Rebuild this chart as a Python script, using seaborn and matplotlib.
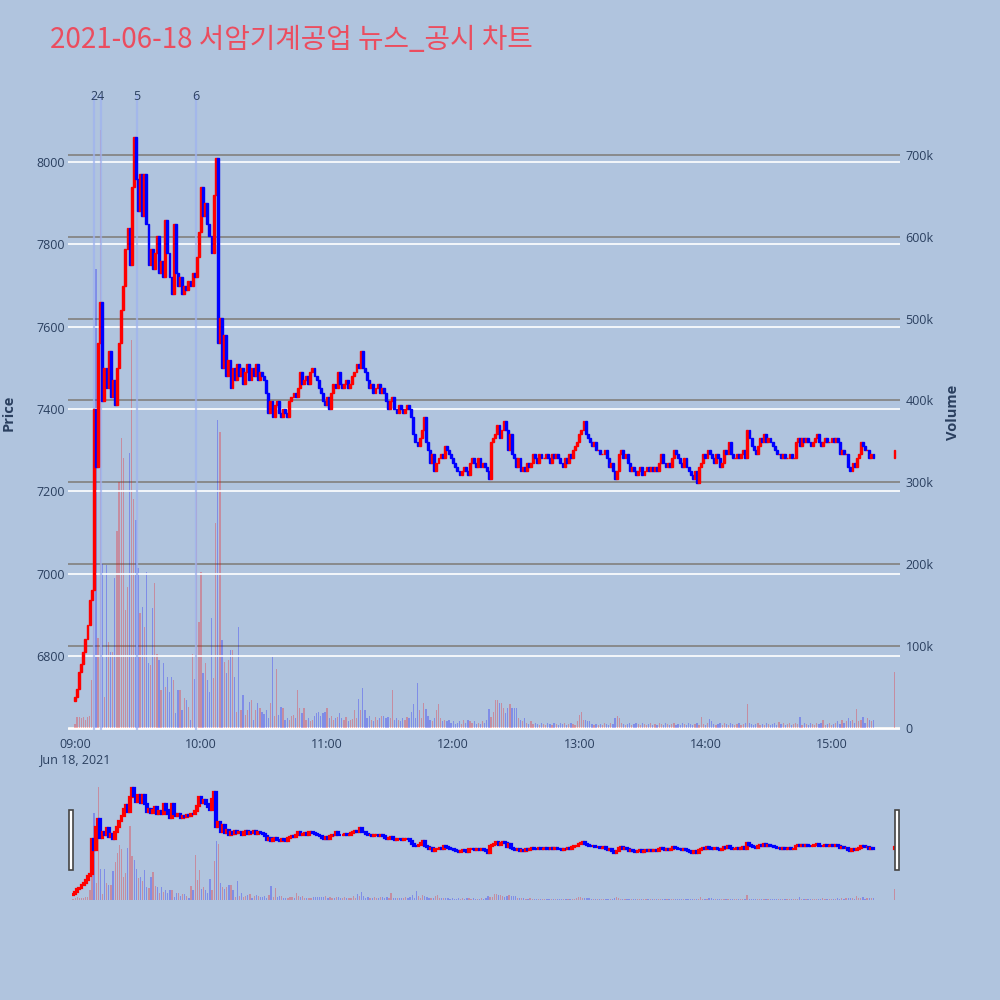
import numpy as np
import pandas as pd
import matplotlib
matplotlib.use('Agg')
from matplotlib import pyplot as plt
from matplotlib.patches import Rectangle
import seaborn as sns

## chart data (minutes after 09:00, 1-minute candles, last one = 15:30 close)
title = '2021-06-18 서암기계공업 뉴스_공시 차트'
first_open = 6690
close = [
    6700, 6720, 6760, 6780, 6810, 6840, 6875, 6935, 6960, 7400,  # 09:00
    7260, 7560, 7660, 7420, 7500, 7450, 7540, 7430, 7470, 7410,  # 09:10
    7500, 7560, 7640, 7700, 7790, 7840, 7750, 7940, 8060, 7960,  # 09:20
    7880, 7970, 7870, 7970, 7850, 7750, 7790, 7740, 7780, 7820,  # 09:30
    7730, 7760, 7720, 7860, 7780, 7720, 7680, 7850, 7730, 7700,  # 09:40
    7720, 7680, 7700, 7690, 7710, 7700, 7730, 7720, 7770, 7830,  # 09:50
    7940, 7870, 7900, 7850, 7820, 7780, 7920, 8010, 7560, 7620,  # 10:00
    7500, 7580, 7480, 7520, 7450, 7500, 7470, 7510, 7480, 7500,  # 10:10
    7460, 7490, 7510, 7470, 7500, 7480, 7510, 7470, 7490, 7480,  # 10:20
    7470, 7440, 7390, 7420, 7380, 7410, 7420, 7390, 7380, 7400,  # 10:30
    7390, 7380, 7420, 7430, 7440, 7430, 7450, 7490, 7460, 7470,  # 10:40
    7480, 7460, 7490, 7500, 7480, 7470, 7450, 7440, 7420, 7410,  # 10:50
    7430, 7400, 7440, 7460, 7450, 7490, 7460, 7450, 7460, 7470,  # 11:00
    7450, 7460, 7480, 7490, 7510, 7500, 7540, 7500, 7490, 7470,  # 11:10
    7450, 7460, 7440, 7450, 7460, 7440, 7450, 7440, 7420, 7400,  # 11:20
    7420, 7430, 7400, 7390, 7410, 7400, 7390, 7400, 7410, 7400,  # 11:30
    7380, 7340, 7320, 7310, 7330, 7350, 7380, 7320, 7300, 7270,  # 11:40
    7290, 7250, 7270, 7280, 7290, 7280, 7310, 7300, 7290, 7280,  # 11:50
    7270, 7260, 7250, 7240, 7250, 7260, 7250, 7240, 7270, 7280,  # 12:00
    7270, 7260, 7280, 7260, 7270, 7260, 7250, 7230, 7320, 7330,  # 12:10
    7340, 7360, 7330, 7350, 7370, 7350, 7300, 7340, 7290, 7280,  # 12:20
    7260, 7280, 7250, 7260, 7250, 7270, 7260, 7270, 7290, 7280,  # 12:30
    7270, 7290, 7280, 7280, 7290, 7280, 7270, 7290, 7280, 7290,  # 12:40
    7280, 7270, 7260, 7280, 7270, 7290, 7280, 7300, 7310, 7320,  # 12:50
    7340, 7350, 7370, 7340, 7330, 7320, 7310, 7320, 7300, 7300,  # 13:00
    7290, 7290, 7300, 7280, 7260, 7270, 7250, 7230, 7250, 7290,  # 13:10
    7300, 7280, 7290, 7270, 7250, 7260, 7250, 7240, 7250, 7260,  # 13:20
    7240, 7250, 7260, 7250, 7260, 7250, 7260, 7250, 7270, 7290,  # 13:30
    7270, 7260, 7270, 7260, 7280, 7300, 7290, 7280, 7270, 7260,  # 13:40
    7280, 7260, 7250, 7240, 7230, 7250, 7220, 7260, 7270, 7290,  # 13:50
    7280, 7300, 7290, 7280, 7270, 7290, 7280, 7260, 7270, 7300,  # 14:00
    7290, 7320, 7290, 7280, 7280, 7290, 7280, 7290, 7300, 7280,  # 14:10
    7350, 7330, 7310, 7300, 7290, 7310, 7330, 7320, 7340, 7320,  # 14:20
    7330, 7320, 7310, 7300, 7290, 7290, 7280, 7290, 7280, 7280,  # 14:30
    7290, 7280, 7280, 7320, 7330, 7310, 7330, 7320, 7330, 7320,  # 14:40
    7310, 7320, 7330, 7340, 7320, 7310, 7320, 7330, 7320, 7320,  # 14:50
    7330, 7320, 7330, 7320, 7290, 7300, 7290, 7290, 7260, 7250,  # 15:00
    7270, 7260, 7280, 7290, 7320, 7310, 7300, 7300, 7280, 7290,  # 15:10
    7280,                                                        # 15:20
    7300,                                                        # 15:30 close
]
volume_k = [
    5, 13, 14, 12, 13, 10, 14, 15, 59, 300,
    560, 110, 730, 200, 38, 199, 105, 93, 93, 183,
    240, 300, 354, 330, 144, 172, 336, 474, 280, 254,
    195, 140, 148, 123, 190, 79, 77, 146, 177, 91,
    83, 46, 79, 50, 62, 44, 62, 59, 18, 46,
    46, 22, 37, 34, 26, 10, 91, 60, 288, 130,
    190, 67, 79, 59, 44, 134, 61, 250, 376, 361,
    107, 81, 67, 83, 95, 95, 62, 20, 123, 22,
    40, 16, 22, 32, 34, 10, 22, 30, 25, 20,
    17, 22, 12, 30, 87, 15, 72, 16, 26, 24,
    10, 12, 10, 15, 16, 12, 46, 24, 18, 24,
    10, 12, 8, 10, 15, 18, 20, 15, 18, 20,
    24, 12, 15, 10, 12, 14, 18, 12, 10, 14,
    8, 10, 11, 22, 12, 35, 22, 49, 22, 12,
    15, 10, 8, 14, 10, 12, 15, 15, 12, 14,
    12, 46, 10, 12, 10, 8, 12, 10, 14, 12,
    20, 29, 12, 55, 22, 12, 30, 23, 15, 10,
    8, 12, 22, 29, 12, 8, 10, 8, 10, 6,
    8, 5, 6, 8, 5, 10, 6, 10, 8, 6,
    8, 5, 6, 5, 8, 6, 10, 23, 14, 20,
    34, 34, 30, 30, 25, 18, 25, 29, 25, 25,
    25, 12, 10, 8, 12, 6, 5, 8, 5, 6,
    5, 4, 6, 5, 4, 6, 5, 4, 6, 5,
    4, 6, 5, 6, 4, 5, 6, 5, 4, 8,
    16, 20, 10, 10, 8, 8, 5, 4, 5, 4,
    5, 4, 6, 5, 4, 6, 5, 12, 15, 12,
    6, 5, 4, 5, 6, 4, 5, 6, 5, 4,
    6, 5, 4, 5, 6, 4, 5, 4, 6, 5,
    4, 6, 5, 4, 5, 6, 4, 5, 4, 6,
    5, 4, 6, 5, 4, 5, 6, 4, 14, 5,
    4, 6, 11, 8, 5, 4, 5, 6, 4, 6,
    5, 4, 6, 5, 4, 5, 6, 4, 5, 6,
    29, 6, 5, 4, 5, 6, 4, 5, 4, 6,
    5, 4, 5, 6, 4, 7, 5, 6, 4, 5,
    6, 4, 5, 6, 5, 14, 4, 6, 5, 4,
    6, 5, 4, 6, 5, 6, 10, 4, 5, 6,
    4, 5, 6, 8, 5, 10, 6, 8, 12, 8,
    10, 6, 23, 8, 10, 14, 6, 12, 10, 8,
    10,
    68,
]
minutes = list(range(381)) + [390]
news_minutes = [9.3, 12.2, 29.3, 57.4]
news_labels = ['2', '4', '5', '6']
hour_ticks = [0, 60, 120, 180, 240, 300, 360]
hour_labels = ['09:00\nJun 18, 2021', '10:00', '11:00', '12:00', '13:00', '14:00', '15:00']
price_ticks = [6800, 7000, 7200, 7400, 7600, 7800, 8000]
vol_ticks = [0, 100000, 200000, 300000, 400000, 500000, 600000, 700000]
vol_labels = ['0', '100k', '200k', '300k', '400k', '500k', '600k', '700k']

d = pd.DataFrame({'minute': minutes, 'close': close, 'volume': np.array(volume_k) * 1000})
d['open'] = d['close'].shift(1).fillna(first_open)
d['up'] = d['close'] >= d['open']
d['color'] = np.where(d['up'], '#ff0000', '#0000ff')

## style
sns.set_theme(style='darkgrid', rc={
    'figure.facecolor': '#b0c4de',
    'axes.facecolor': '#e5ecf6',
    'grid.color': 'white',
})
plt.rcParams['font.family'] = ['Noto Sans CJK KR', 'DejaVu Sans']
txt = '#2a3f5f'
PLO, PHI = 6620, 8163
VLO, VHI = -2400, 773000

fig = plt.figure(figsize=(10, 10), dpi=100)
fig.text(0.05, 0.96, title, fontsize=20, color='#eb4d5f', va='center', ha='left')


def draw(ax, axv, lw):
    axv.bar(d['minute'], d['volume'], width=0.6, color=d['color'], alpha=0.28, linewidth=0, zorder=2)
    ax.bar(d['minute'], d['close'] - d['open'], bottom=d['open'], width=0.9,
           color=d['color'], edgecolor=d['color'], linewidth=lw, zorder=3)
    ax.set_ylim(PLO, PHI)
    axv.set_ylim(VLO, VHI)


## main panel
ax = fig.add_axes([0.068, 0.27, 0.832, 0.635])
axv = ax.twinx()
ax.set_zorder(axv.get_zorder() + 1)
ax.patch.set_visible(False)
axv.set_facecolor('#e5ecf6')
draw(ax, axv, 1.0)
for m, lab in zip(news_minutes, news_labels):
    ax.axvline(m, color='#9fb3ef', lw=1.6, alpha=0.75, zorder=1)
    ax.text(m, 0.997, lab, transform=ax.get_xaxis_transform(), ha='center', va='center',
            fontsize=9, color=txt, family=['Open Sans', 'DejaVu Sans'])
ax.set_xlim(-3.3, 392.6)
ax.set_xticks(hour_ticks)
ax.set_xticklabels(hour_labels, family=['Open Sans', 'DejaVu Sans'])
ax.set_yticks(price_ticks)
ax.set_yticklabels([str(p) for p in price_ticks], family=['Open Sans', 'DejaVu Sans'])
ax.grid(axis='x', visible=False)
ax.grid(axis='y', color='white', lw=1.2)
axv.set_yticks(vol_ticks)
axv.set_yticklabels(vol_labels, family=['Open Sans', 'DejaVu Sans'])
axv.grid(axis='x', visible=False)
axv.grid(axis='y', color='#858585', lw=1.3)
axv.axhline(0, color='white', lw=2, zorder=1)
ax.tick_params(axis='both', length=0, labelsize=9, labelcolor=txt)
ax.tick_params(axis='y', pad=2)
ax.tick_params(axis='x', pad=6)
axv.tick_params(axis='y', length=0, labelsize=9, labelcolor=txt, pad=4)
ax.set_ylabel('Price', fontsize=10.5, fontweight='bold', color=txt, family=['Open Sans', 'DejaVu Sans'])
ax.yaxis.set_label_coords(-0.0625, 0.5)
axv.set_ylabel('Volume', fontsize=10.5, fontweight='bold', color=txt, family=['Open Sans', 'DejaVu Sans'])
axv.yaxis.set_label_coords(1.055, 0.5)
for a in (ax, axv):
    for s in a.spines.values():
        s.set_visible(False)

## range slider
rs = fig.add_axes([0.072, 0.100, 0.825, 0.120])
rsv = rs.twinx()
rs.set_zorder(rsv.get_zorder() + 1)
rs.patch.set_visible(False)
rsv.set_facecolor('#e5ecf6')
draw(rs, rsv, 1.6)
rs.set_xlim(-0.5, 391.2)
for a in (rs, rsv):
    a.set_xticks([])
    a.set_yticks([])
    a.grid(False)
    for s in a.spines.values():
        s.set_visible(False)
for x0 in (0.069, 0.895):
    fig.patches.append(Rectangle((x0, 0.130), 0.004, 0.060, transform=fig.transFigure,
                                 facecolor='white', edgecolor='#444444', lw=1.2, zorder=5))

fig.savefig('out.png', dpi=100, facecolor=fig.get_facecolor())
